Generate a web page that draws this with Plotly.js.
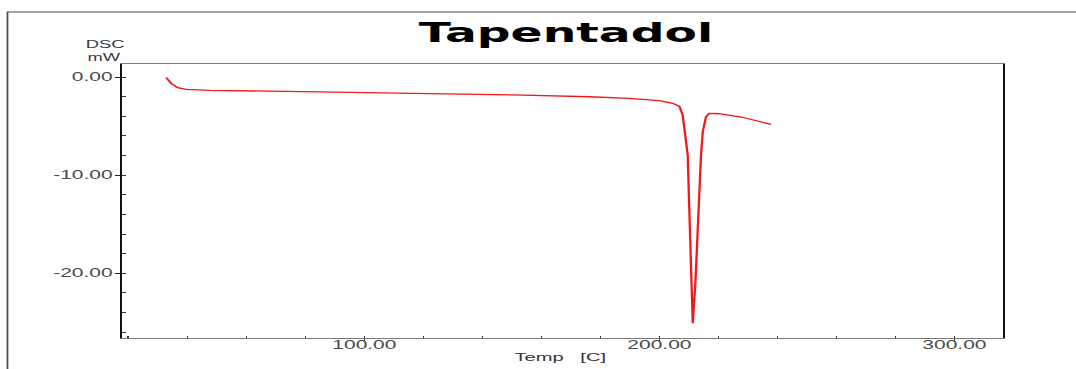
<!DOCTYPE html>
<html>
<head>
<meta charset="utf-8">
<script src="https://cdn.plot.ly/plotly-3.0.1.min.js"></script>
<style>
  html, body { margin: 0; padding: 0; background: #fff; overflow: hidden; }
  /* The thermogram is laid out narrow and widened horizontally, like the instrument print-out */
  #dsc { width: 615px; height: 369px; transform-origin: 0 0; }
</style>
</head>
<body>
<div id="dsc"></div>
<script>
// DSC scan of tapentadol: heat flow (mW) against temperature (°C)
const tempC = [32.8, 34.5, 36.7, 39.6, 47.5, 62.0, 80.2, 92.5, 105.1, 134.5, 153.7,
               176.3, 189.8, 197.6, 200.0, 204.5, 206.8, 207.9, 208.8, 209.6, 210.0,
               210.6, 211.3, 212.2, 212.8, 213.6, 214.1, 214.7, 215.8, 216.9, 220.3,
               228.2, 233.9, 237.9];
const heatFlow = [-0.05, -0.64, -1.08, -1.25, -1.35, -1.42, -1.52, -1.56, -1.60, -1.73, -1.84,
                  -2.01, -2.17, -2.35, -2.40, -2.68, -3.00, -3.88, -5.90, -7.96, -12.2,
                  -19.9, -25.1, -21.0, -15.8, -9.8, -7.96, -5.58, -4.05, -3.70, -3.74,
                  -4.10, -4.49, -4.83];

const xTickVals = [100, 200, 300];
const xTickText = ['100.00', '200.00', '300.00'];
const yTickVals = [0, -10, -20];
const yTickText = ['0.00', '-10.00', '-20.00'];

// page geometry
const W = 615, H = 369;
const SCALE = 1076 / W;
const M = { l: 123 / SCALE, r: W - 1003 / SCALE, t: 64, b: H - 338 };
document.getElementById('dsc').style.transform = 'scaleX(' + SCALE + ')';

const plotW = W - M.l - M.r, plotH = H - M.t - M.b;
// screen pixel -> paper coordinates
const px = x => (x / SCALE - M.l) / plotW;
const py = y => (H - M.b - y) / plotH;

const FONT = 'Liberation Sans, Arial, sans-serif';
const TITLE_FONT = 'DejaVu Sans, Liberation Sans, sans-serif';

const trace = {
  x: tempC,
  y: heatFlow,
  type: 'scatter',
  mode: 'lines',
  line: { color: '#f01818', width: 1.3 },
  hoverinfo: 'skip'
};

const layout = {
  width: W,
  height: H,
  margin: M,
  paper_bgcolor: '#fff',
  plot_bgcolor: '#fff',
  showlegend: false,
  font: { family: FONT, color: '#505050' },
  title: {
    text: 'Tapentadol',
    font: { family: TITLE_FONT, size: 27, color: '#000', weight: 'bold' },
    xref: 'paper', x: px(566.5), xanchor: 'center',
    yref: 'container', y: 1 - 33 / H, yanchor: 'middle'
  },
  xaxis: {
    range: [18, 316.3],
    showgrid: false, zeroline: false,
    showline: true, mirror: true, linecolor: '#7a7a7a', linewidth: 1.4,
    tickmode: 'array', tickvals: xTickVals, ticktext: xTickText,
    ticks: 'outside', ticklen: 3, tickwidth: 1, tickcolor: '#222',
    ticklabelstandoff: -8,
    tickfont: { family: FONT, size: 12, color: '#4a4a4a' },
    minor: { tickmode: 'linear', tick0: 0, dtick: 20, ticks: 'inside', ticklen: 2, tickcolor: '#333', showgrid: false }
  },
  yaxis: {
    range: [-26.6, 1.33],
    showgrid: false, zeroline: false,
    showline: true, mirror: true, linecolor: '#111', linewidth: 1.2,
    tickmode: 'array', tickvals: yTickVals, ticktext: yTickText,
    ticks: 'outside', ticklen: 3, tickwidth: 1, tickcolor: '#222',
    ticklabelstandoff: -1,
    tickfont: { family: FONT, size: 12, color: '#4a4a4a' },
    minor: { tickmode: 'linear', tick0: 0, dtick: 2, ticks: 'inside', ticklen: 2, tickcolor: '#333', showgrid: false }
  },
  shapes: [{
    // outer frame of the print-out
    type: 'path', xref: 'paper', yref: 'paper',
    path: 'M ' + px(8) + ' ' + py(380) + ' L ' + px(8) + ' ' + py(12) + ' L ' + px(1090) + ' ' + py(12),
    line: { color: '#4a4a4a', width: 1 },
    layer: 'above'
  }],
  annotations: [
    { text: 'DSC', xref: 'paper', yref: 'paper', x: px(84), y: py(43.5), xanchor: 'left', yanchor: 'middle',
      showarrow: false, borderpad: 0, font: { family: FONT, size: 10.5, color: '#333a44' } },
    { text: 'mW', xref: 'paper', yref: 'paper', x: px(86), y: py(57), xanchor: 'left', yanchor: 'middle',
      showarrow: false, borderpad: 0, font: { family: FONT, size: 10.5, color: '#333a44' } },
    { text: 'Temp\u00a0\u00a0\u00a0[C]', xref: 'paper', yref: 'paper', x: px(560), y: py(357), xanchor: 'center', yanchor: 'middle',
      showarrow: false, borderpad: 0, font: { family: FONT, size: 11.5, color: '#333' } }
  ]
};

Plotly.newPlot('dsc', [trace], layout, { displayModeBar: false, staticPlot: true });
</script>
</body>
</html>
